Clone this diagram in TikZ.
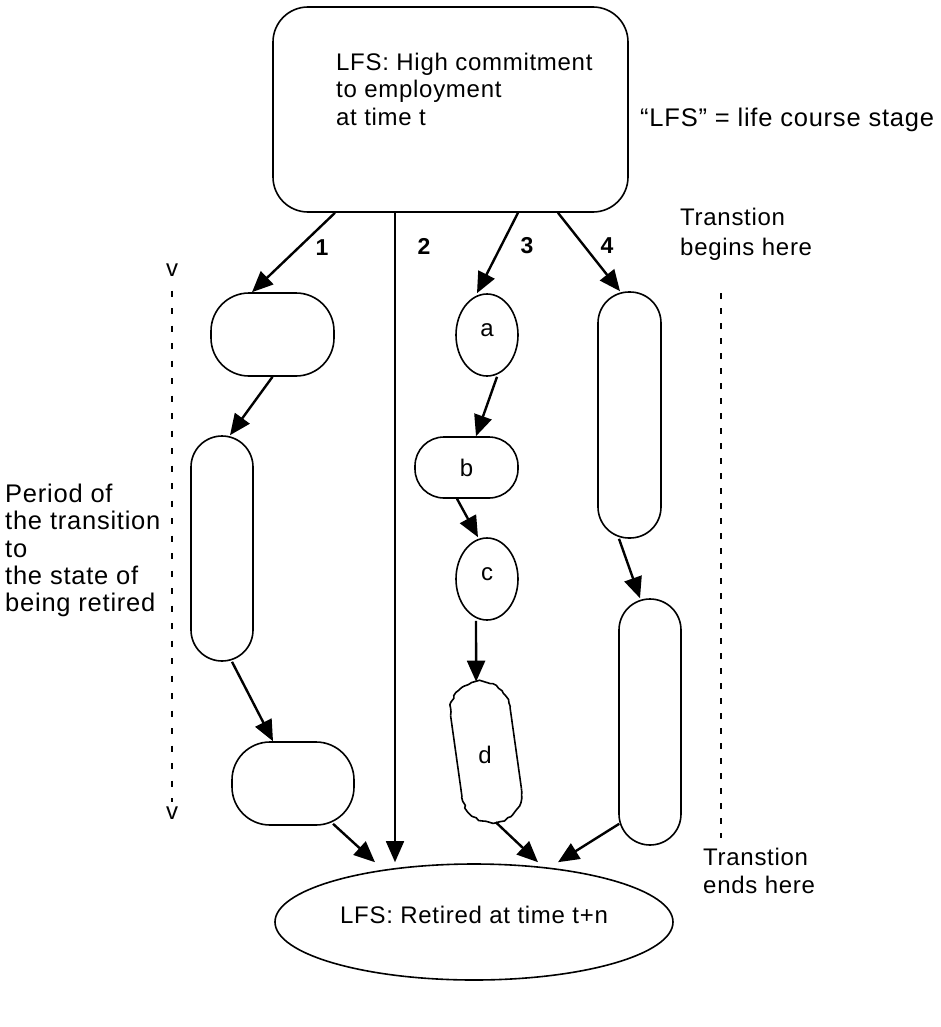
\documentclass[tikz,border=0pt]{standalone}
\usepackage{fontspec}
\setmainfont{Liberation Sans}[LetterSpace=3]
\usetikzlibrary{arrows.meta,calc,decorations.pathmorphing,shapes.geometric}
\begin{document}
\begin{tikzpicture}[x=1pt,y=-1pt,
  sbox/.style={draw, line width=1.6pt, inner sep=0pt, rounded corners=#1},
  oval/.style={draw, ellipse, line width=1.6pt, inner sep=0pt},
  txt/.style={inner sep=0pt, font=\fontsize{24}{27.5}\selectfont},
  bigtxt/.style={inner sep=0pt, font=\fontsize{25.5}{27.2}\selectfont},
  num/.style={inner sep=0pt, font=\fontsize{23}{27}\selectfont\bfseries},
  arr/.style={-{Triangle[length=21pt,width=18pt]}, line width=2.4pt},
  thinarr/.style={-{Triangle[length=21pt,width=18pt]}, line width=1.7pt},
  wavy/.style={decorate, decoration={random steps, segment length=3.5pt, amplitude=1pt}},
  dline/.style={line width=1.5pt, dash pattern=on 6pt off #1}
]
\useasboundingbox (0,0) rectangle (941,1027);

% main nodes
\node[sbox=35pt, minimum width=355pt, minimum height=205pt] (top) at (450.5,109.5) {};
\node[txt, anchor=north west, align=left] (toptext) at (336,52.5) {LFS: High commitment\\to employment\\at time t};
\node[bigtxt, anchor=west] (lfsnote) at (640,120) {“LFS” = life course stage};

\node[oval, minimum width=398pt, minimum height=116pt, txt] (bottom) at (474,922) {};
\node[txt] (bottomtext) at (474,915) {LFS: Retired at time t+n};

% left column
\node[sbox=38pt, minimum width=123pt, minimum height=83pt] (L1) at (272.5,334.5) {};
\node[sbox=31pt, minimum width=62pt, minimum height=225pt] (L2) at (222,548.5) {};
\node[sbox=38pt, minimum width=122pt, minimum height=83pt] (L3) at (293,783.5) {};

% middle column
\node[oval, minimum width=62pt, minimum height=82pt, txt] (a) at (487,335) {\raisebox{5pt}[\height][0pt]{a}};
\node[sbox=29pt, minimum width=103pt, minimum height=61pt, txt] (b) at (466.5,467.5) {b};
\node[oval, minimum width=62pt, minimum height=82pt, txt] (c) at (487,579) {\raisebox{5pt}[\height][0pt]{c}};
\coordinate (dc) at (486,752);
\node[txt] (d) at (485,755) {d};
\begin{scope}[shift={(dc)}, rotate=8, y=1pt]
  \coordinate (dtop) at (0,71);
  \coordinate (dbot) at (0,-71);
  \draw[line width=1.6pt, wavy, line join=round] (-30,41) arc[start angle=180, end angle=0, radius=30pt];
  \draw[line width=1.6pt] (30,41) -- (30,-41);
  \draw[line width=1.6pt, wavy, line join=round] (30,-41) arc[start angle=0, end angle=-180, radius=30pt];
  \draw[line width=1.6pt] (-30,-41) -- (-30,41);
\end{scope}

% right column
\node[sbox=31pt, minimum width=63pt, minimum height=246pt] (R1) at (629.5,415) {};
\node[sbox=31pt, minimum width=62pt, minimum height=246pt] (R2) at (650,722) {};

% connectors from the top box
\draw[arr] ($(top.south)+(-115.5,0)$) -- ($(L1.north)+(-20.5,0)$);
\draw[thinarr] ($(top.south)+(-55.5,0)$) -- ($(bottom.north)+(-79,-1)$);
\draw[arr] ($(top.south)+(67.5,0)$) -- ($(a.north)+(-10,0)$);
\draw[arr] ($(top.south)+(107.5,0)$) -- ($(R1.north)+(-9.5,0)$);

% path 1
\draw[arr] (L1.south) -- ($(L2.north)+(8,0)$);
\draw[arr] ($(L2.south)+(10,0)$) -- ($(L3.north)+(-20,0)$);
\draw[arr] ($(L3.south)+(40,-2)$) -- ($(bottom.north)+(-99,-1)$);

% path 3
\draw[arr] ($(a.south)+(10,0)$) -- ($(b.north)+(9.5,0)$);
\draw[arr] ($(b.south)+(-9.5,0)$) -- ($(c.north)+(-9,0)$);
\draw[arr] ($(c.south)+(-11,0)$) -- (dtop);
\draw[arr] (dbot) -- ($(bottom.north)+(64,-1)$);

% path 4
\draw[arr] ($(R1.south)+(-10.5,0)$) -- ($(R2.north)+(-10,0)$);
\draw[arr] ($(R2.south west)+(1,-22)$) -- ($(bottom.north)+(84,-1)$);

% path numbers
\node[num] (n1) at (322,248) {1};
\node[num] (n2) at (424,246) {2};
\node[num] (n3) at (527,246) {3};
\node[num] (n4) at (607,246) {4};

% left time axis
\node[txt] (vtop) at (172,270) {v};
\node[txt] (vbot) at (172,813) {v};
\draw[dline=11.5pt] ($(vtop.south)+(0,14)$) -- ($(vbot.north)+(0,-4)$);
\node[bigtxt, anchor=north west, align=left] (period) at (5,484) {Period of\\the transition\\to\\the state of\\being retired};

% right time axis
\coordinate (rd1) at (721,293);
\coordinate (rd2) at (721,838);
\draw[dline=9pt] (rd1) -- (rd2);
\node[txt, anchor=north west, align=left, font=\fontsize{24}{30}\selectfont] (begins) at (680,208) {Transtion\\begins here};
\node[txt, anchor=north west, align=left] (ends) at (703,848) {Transtion\\ends here};
\end{tikzpicture}
\end{document}
